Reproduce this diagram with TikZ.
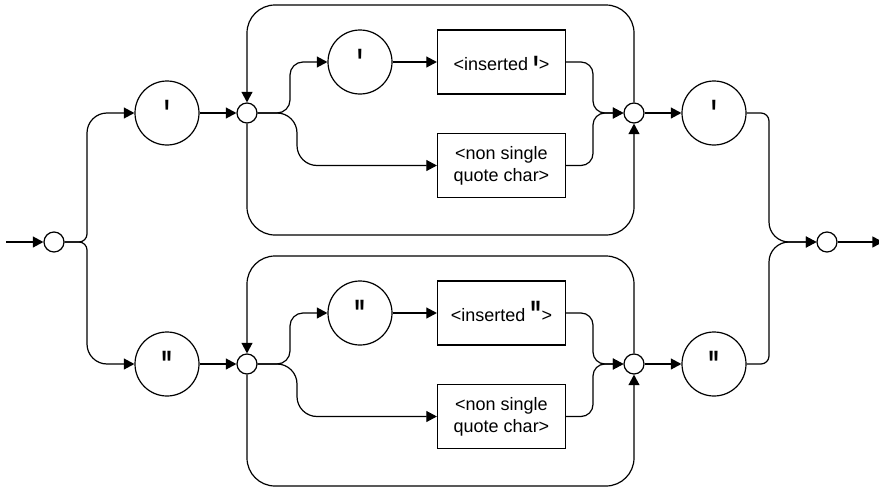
\documentclass[tikz,border=0pt]{standalone}
\usepackage{fontspec}
\setmainfont{Liberation Sans}
\newfontfamily\quotefont{Liberation Sans}
\usepackage{graphicx}
\usetikzlibrary{arrows.meta}

% tall straight quote mark, shifted by #1
\newcommand{\bigq}[2]{\raisebox{#1}[0pt][0pt]{\scalebox{1.3}[2.2]{\quotefont\bfseries #2}}}

\begin{document}
\begin{tikzpicture}[
  x=0.5pt, y=-0.5pt,
  line width=0.6pt,
  font=\fontsize{9}{11}\selectfont,
  junction/.style={draw, circle, minimum size=10pt, inner sep=0pt},
  term/.style={draw, circle, minimum size=32pt, inner sep=0pt, text height=0pt, text depth=0pt},
  prod/.style={draw, align=center, minimum width=64pt, minimum height=32pt, inner sep=0pt},
  prodq/.style={prod, text height=8pt, text depth=0pt},
  arrow/.style={-{Triangle[length=5.3pt, width=5.5pt]}}
]
\useasboundingbox (0,0) rectangle (879,487);

\coordinate (entry) at (6,242);
\coordinate (exit) at (883,242);
\coordinate (split) at (87,242);
\coordinate (merge) at (769,242);

\node[junction] (startj) at (54,242) {};
\node[term] (q1) at (167,113) {\bigq{-7pt}{'}};
\node[term] (q2) at (167,364) {\bigq{-7pt}{"}};

% upper loop
\node[junction] (lj1) at (247,113) {};
\node[term] (qa1) at (360,62) {\bigq{-7pt}{'}};
\node[prodq] (ins1) at (501.5,62) {<inserted \bigq{-6.6pt}{'}>};
\node[prod] (non1) at (501.5,165.5) {<non single\\quote char>};
\node[junction] (rj1) at (634,113) {};
\coordinate (a1) at (290,113);
\coordinate (b1) at (297,113);
\coordinate (m1) at (593,113);
\coordinate (top1) at (440,5);
\coordinate (bot1) at (440,235);

% lower loop
\node[junction] (lj2) at (247,364) {};
\node[term] (qa2) at (360,313) {\bigq{-7pt}{"}};
\node[prodq] (ins2) at (501.5,313) {<inserted \bigq{-3.6pt}{"}>};
\node[prod] (non2) at (501.5,416.5) {<non single\\quote char>};
\node[junction] (rj2) at (634,364) {};
\coordinate (a2) at (290,364);
\coordinate (b2) at (297,364);
\coordinate (m2) at (593,364);
\coordinate (top2) at (440,256);
\coordinate (bot2) at (440,486);

\node[term] (q3) at (714,113) {\bigq{-7pt}{'}};
\node[term] (q4) at (714,364) {\bigq{-7pt}{"}};
\node[junction] (endj) at (827,242) {};

\draw[arrow] (entry) -- (startj);
\draw[arrow] (startj.east) [rounded corners=4pt] -- (split) [rounded corners=10pt] -- (split |- q1) -- (q1.west);
\draw[arrow] (startj.east) [rounded corners=4pt] -- (split) [rounded corners=10pt] -- (split |- q2) -- (q2.west);
\draw[arrow] (q1) -- (lj1);
\draw[arrow] (q2) -- (lj2);

\draw[arrow, rounded corners=14pt] (rj1.north) |- (top1) -| (lj1.north);
\draw[arrow, rounded corners=14pt] (lj1.south) |- (bot1) -| (rj1.south);
\draw[arrow, rounded corners=6.5pt] (lj1.east) -- (a1) |- (qa1.west);
\draw[arrow, rounded corners=10pt] (lj1.east) -- (b1) |- (non1.west);
\draw[arrow] (qa1) -- (ins1);
\draw[arrow, rounded corners=6pt] (ins1.east) -| (m1) -- (rj1.west);
\draw[arrow, rounded corners=6pt] (non1.east) -| (m1) -- (rj1.west);

\draw[arrow, rounded corners=14pt] (rj2.north) |- (top2) -| (lj2.north);
\draw[arrow, rounded corners=14pt] (lj2.south) |- (bot2) -| (rj2.south);
\draw[arrow, rounded corners=6.5pt] (lj2.east) -- (a2) |- (qa2.west);
\draw[arrow, rounded corners=10pt] (lj2.east) -- (b2) |- (non2.west);
\draw[arrow] (qa2) -- (ins2);
\draw[arrow, rounded corners=6pt] (ins2.east) -| (m2) -- (rj2.west);
\draw[arrow, rounded corners=6pt] (non2.east) -| (m2) -- (rj2.west);

\draw[arrow] (rj1) -- (q3);
\draw[arrow] (rj2) -- (q4);
\draw[arrow] (q3.east) [rounded corners=4pt] -- (merge |- q3) [rounded corners=10pt] -- (merge) -- (endj.west);
\draw[arrow] (q4.east) [rounded corners=4pt] -- (merge |- q4) [rounded corners=10pt] -- (merge) -- (endj.west);
\draw[arrow] (endj) -- (exit);
\end{tikzpicture}
\end{document}
